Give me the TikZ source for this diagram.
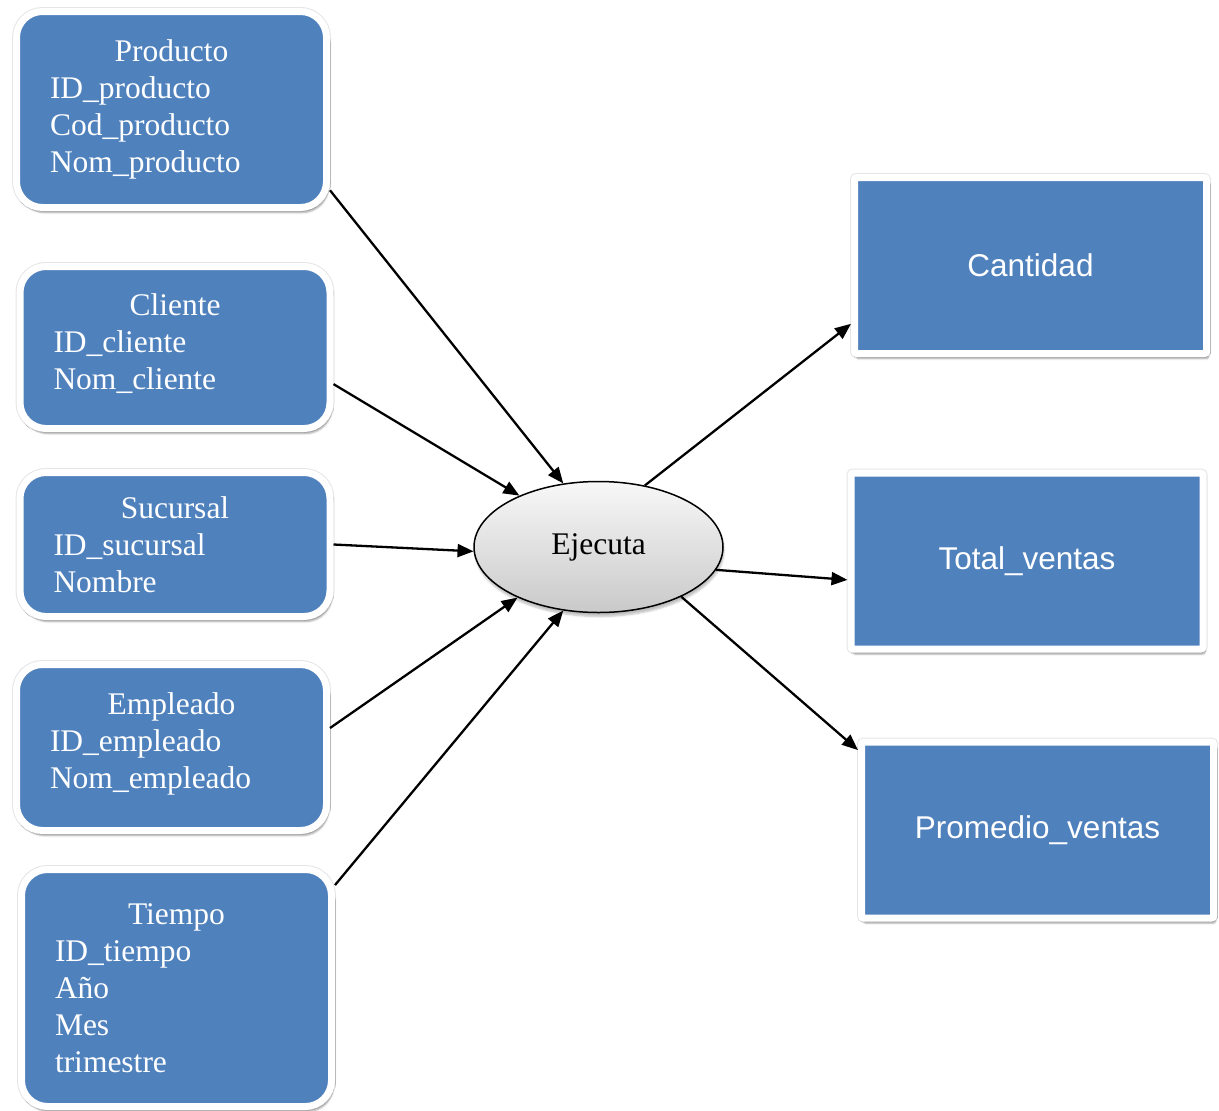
\documentclass[tikz,border=0pt]{standalone}
\usepackage{fontspec}
\setmainfont{Liberation Serif}
\newfontfamily\arialfont{Liberation Sans}
\usetikzlibrary{shapes.geometric,arrows.meta,shadows.blur}
\definecolor{cajaazul}{RGB}{79,129,189}

\tikzset{
  caja/.style={draw=white, line width=7pt, fill=cajaazul, text=white,
    preaction={draw=black!10, line width=9pt},
    blur shadow={shadow xshift=2pt, shadow yshift=-5pt, shadow blur steps=6, shadow opacity=35}},
  entidad/.style={caja, rectangle, rounded corners=26pt, text width=243pt, align=left,
    inner xsep=33.5pt, inner ysep=0pt, font=\fontsize{31.5}{37}\selectfont},
  medida/.style={caja, rectangle, rounded corners=2pt, minimum width=352pt, minimum height=176pt,
    font=\arialfont\fontsize{31.5}{37}\selectfont},
  relacion/.style={ellipse, draw, line width=1.5pt, top color=gray!6, bottom color=gray!42,
    minimum width=249pt, minimum height=131pt, inner sep=0pt,
    font=\fontsize{31.5}{37}\selectfont,
    blur shadow={shadow xshift=1pt, shadow yshift=-4pt, shadow blur steps=5, shadow opacity=25}},
  flecha/.style={-{Triangle[length=16pt,width=13pt]}, line width=2.3pt}
}

\begin{document}
\begin{tikzpicture}[x=1pt, y=-1pt]
    \useasboundingbox (0,0) rectangle (1219,1111);

    % 左側のエンティティ
    \node[entidad, minimum height=196pt] (producto) at (171.5, 109.5)
      {\makebox[\linewidth]{Producto}\\ ID\_producto\\ Cod\_producto\\ Nom\_producto};
    \node[entidad, minimum height=162pt] (cliente) at (175, 347.5)
      {\makebox[\linewidth]{Cliente}\\ ID\_cliente\\ Nom\_cliente\vspace{8pt}};
    \node[entidad, minimum height=144pt] (sucursal) at (175, 544.5)
      {\makebox[\linewidth]{Sucursal}\\ ID\_sucursal\\ Nombre};
    \node[entidad, minimum height=166pt] (empleado) at (171.5, 747.5)
      {\makebox[\linewidth]{Empleado}\\ ID\_empleado\\ Nom\_empleado\vspace{8pt}};
    \node[entidad, minimum height=237pt] (tiempo) at (176.5, 988)
      {\makebox[\linewidth]{Tiempo}\\ ID\_tiempo\\ Año\\ Mes\\ trimestre};

    % 中央の楕円
    \node[relacion] (ejecuta) at (598.5, 547) {Ejecuta};

    % 右側の指標
    \node[medida] (cantidad) at (1030.5, 265.5) {Cantidad};
    \node[medida] (total) at (1027, 561) {Total\_ventas};
    \node[medida] (promedio) at (1037.5, 830) {Promedio\_ventas};

    % 矢印
    \draw[flecha] (producto.-27.5) -- (ejecuta.119);
    \draw[flecha] (cliente.-13) -- (ejecuta.147);
    \draw[flecha] (sucursal.east) -- (ejecuta.182);
    \draw[flecha] (empleado.7) -- (ejecuta.212);
    \draw[flecha] (tiempo.33) -- (ejecuta.241);
    \draw[flecha] (ejecuta.53) -- (cantidad.198);
    \draw[flecha] (ejecuta.-11) -- (total.186);
    \draw[flecha] (ejecuta.-31) -- (promedio.156);
\end{tikzpicture}
\end{document}
